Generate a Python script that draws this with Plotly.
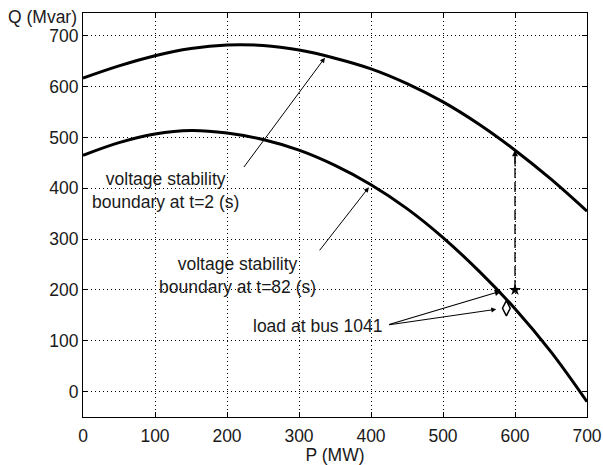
import plotly.graph_objects as go

# ---- data ----
p_mw = [0, 50, 100, 150, 200, 250, 300, 350, 400, 450, 500, 550, 600, 650, 700]
q_boundary_t2 = [617, 641, 661, 675, 682, 681, 672, 656, 635, 606, 570, 526, 475, 418, 355]
q_boundary_t82 = [465, 490, 507, 514, 509, 496, 475, 445, 407, 360, 303, 237, 163, 78, -20]

load_star_p, load_star_q = [600], [200]
load_diamond_p, load_diamond_q = [588], [164]
dashed_p, dashed_q = [600, 600], [200, 462]

x_ticks = [0, 100, 200, 300, 400, 500, 600, 700]
y_ticks = [0, 100, 200, 300, 400, 500, 600, 700]

FONT = "Liberation Sans, Arial, sans-serif"
TXT = "#1a1a1a"
FS = 17.5

fig = go.Figure()

fig.add_trace(go.Scatter(x=p_mw, y=q_boundary_t2, mode="lines",
                         line=dict(color="black", width=3, shape="spline", smoothing=1),
                         showlegend=False, hoverinfo="skip"))
fig.add_trace(go.Scatter(x=p_mw, y=q_boundary_t82, mode="lines",
                         line=dict(color="black", width=3, shape="spline", smoothing=1),
                         showlegend=False, hoverinfo="skip"))
fig.add_trace(go.Scatter(x=dashed_p, y=dashed_q, mode="lines",
                         line=dict(color="black", width=1.3, dash="10px,4px"),
                         showlegend=False, hoverinfo="skip"))
fig.add_trace(go.Scatter(x=load_star_p, y=load_star_q, mode="markers",
                         marker=dict(symbol="star", size=9, color="black"),
                         showlegend=False, hoverinfo="skip"))
fig.add_trace(go.Scatter(x=load_diamond_p, y=load_diamond_q, mode="markers",
                         marker=dict(symbol="diamond-tall-open", size=11, color="black",
                                     line=dict(width=1.5, color="black")),
                         showlegend=False, hoverinfo="skip"))

def arrow(x0, y0, x1, y1, size=1.0, width=1.0):
    fig.add_annotation(x=x1, y=y1, ax=x0, ay=y0, xref="x", yref="y", axref="x", ayref="y",
                       text="", showarrow=True, arrowhead=2, arrowsize=size, arrowwidth=width,
                       arrowcolor="black", standoff=0, startstandoff=0)

arrow(222, 439, 336, 657)
arrow(327, 275, 397, 402)
arrow(423, 131, 581, 198, size=1.2, width=1.1)
arrow(423, 131, 574, 162)
arrow(600, 440, 600, 475, size=1.2)

def label(x, y, text):
    fig.add_annotation(x=x, y=y, xref="x", yref="y", text=text, showarrow=False,
                       font=dict(family=FONT, size=FS, color=TXT), align="center")

label(114, 396, "voltage stability<br>boundary at t=2 (s)")
label(214, 229, "voltage stability<br>boundary at t=82 (s)")
label(325, 130, "load at bus 1041")

fig.add_annotation(x=0, y=1, xref="paper", yref="paper", xanchor="right", yanchor="middle",
                   xshift=-4, yshift=-4, text="Q (Mvar)", showarrow=False,
                   font=dict(family=FONT, size=FS, color=TXT))

axis_common = dict(showgrid=True, gridcolor="black", griddash="1px,3px", gridwidth=1,
                   showline=True, linecolor="black", linewidth=1, mirror="ticks",
                   ticks="inside", ticklen=5, tickcolor="black", zeroline=False,
                   automargin=False,
                   tickfont=dict(family=FONT, size=FS, color=TXT))

fig.update_xaxes(range=[0, 700], tickvals=x_ticks, ticklabelstandoff=3,
                 title=dict(text="P (MW)", standoff=0, font=dict(family=FONT, size=FS, color=TXT)),
                 **axis_common)
fig.update_yaxes(range=[-50, 745], tickvals=y_ticks, **axis_common)

fig.update_layout(width=603, height=465, margin=dict(l=83, r=16, t=13, b=48),
                  paper_bgcolor="white", plot_bgcolor="white")

fig.write_html("out.html")
